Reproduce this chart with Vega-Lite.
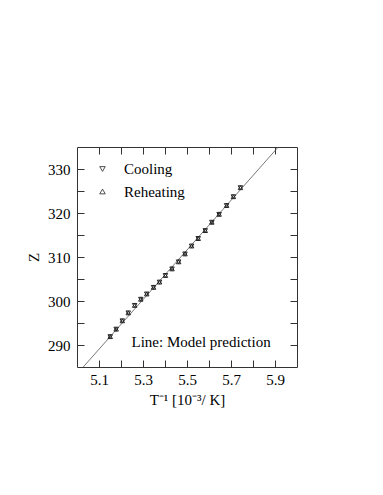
{
  "$schema": "https://vega.github.io/schema/vega-lite/v6.json",
  "width": 220,
  "height": 220,
  "autosize": {"type": "none"},
  "padding": {"left": 77, "top": 147, "right": 86, "bottom": 128},
  "background": "white",
  "config": {
    "view": {"stroke": "#333", "strokeWidth": 1},
    "font": "Liberation Serif",
    "axis": {
      "domain": false,
      "grid": false,
      "tickColor": "#333",
      "tickSize": -7,
      "tickWidth": 1,
      "labelFont": "Liberation Serif",
      "labelFontSize": 15,
      "labelColor": "black",
      "titleFont": "Liberation Serif",
      "titleFontSize": 15,
      "titleFontWeight": "normal",
      "titleColor": "black"
    }
  },
  "datasets": {
    "pts": [
      {"x": 5.151, "z": 291.9, "series": "Cooling"},
      {"x": 5.178, "z": 293.6, "series": "Cooling"},
      {"x": 5.206, "z": 295.5, "series": "Cooling"},
      {"x": 5.233, "z": 297.3, "series": "Cooling"},
      {"x": 5.262, "z": 299.0, "series": "Cooling"},
      {"x": 5.290, "z": 300.4, "series": "Cooling"},
      {"x": 5.317, "z": 301.6, "series": "Cooling"},
      {"x": 5.348, "z": 303.1, "series": "Cooling"},
      {"x": 5.375, "z": 304.3, "series": "Cooling"},
      {"x": 5.402, "z": 305.8, "series": "Cooling"},
      {"x": 5.432, "z": 307.3, "series": "Cooling"},
      {"x": 5.462, "z": 308.9, "series": "Cooling"},
      {"x": 5.491, "z": 310.7, "series": "Cooling"},
      {"x": 5.521, "z": 312.5, "series": "Cooling"},
      {"x": 5.551, "z": 314.2, "series": "Cooling"},
      {"x": 5.583, "z": 316.0, "series": "Cooling"},
      {"x": 5.613, "z": 317.9, "series": "Cooling"},
      {"x": 5.646, "z": 319.7, "series": "Cooling"},
      {"x": 5.680, "z": 321.7, "series": "Cooling"},
      {"x": 5.711, "z": 323.7, "series": "Cooling"},
      {"x": 5.743, "z": 325.75, "series": "Cooling"},
      {"x": 5.151, "z": 291.9, "series": "Reheating"},
      {"x": 5.178, "z": 293.6, "series": "Reheating"},
      {"x": 5.206, "z": 295.5, "series": "Reheating"},
      {"x": 5.233, "z": 297.3, "series": "Reheating"},
      {"x": 5.262, "z": 299.0, "series": "Reheating"},
      {"x": 5.290, "z": 300.4, "series": "Reheating"},
      {"x": 5.317, "z": 301.6, "series": "Reheating"},
      {"x": 5.348, "z": 303.1, "series": "Reheating"},
      {"x": 5.375, "z": 304.3, "series": "Reheating"},
      {"x": 5.402, "z": 305.8, "series": "Reheating"},
      {"x": 5.432, "z": 307.3, "series": "Reheating"},
      {"x": 5.462, "z": 308.9, "series": "Reheating"},
      {"x": 5.491, "z": 310.7, "series": "Reheating"},
      {"x": 5.521, "z": 312.5, "series": "Reheating"},
      {"x": 5.551, "z": 314.2, "series": "Reheating"},
      {"x": 5.583, "z": 316.0, "series": "Reheating"},
      {"x": 5.613, "z": 317.9, "series": "Reheating"},
      {"x": 5.646, "z": 319.7, "series": "Reheating"},
      {"x": 5.680, "z": 321.7, "series": "Reheating"},
      {"x": 5.711, "z": 323.7, "series": "Reheating"},
      {"x": 5.743, "z": 325.75, "series": "Reheating"}
    ],
    "line": [
      {"x": 5.0, "z": 283.4},
      {"x": 6.0, "z": 339.8}
    ]
  },
  "layer": [
    {
      "data": {"name": "line"},
      "mark": {"type": "line", "color": "#555", "strokeWidth": 0.8, "clip": true},
      "encoding": {
        "x": {
          "field": "x", "type": "quantitative",
          "scale": {"domain": [5.0, 6.0], "nice": false, "zero": false},
          "axis": {
            "orient": "bottom",
            "values": [5.1, 5.2, 5.3, 5.4, 5.5, 5.6, 5.7, 5.8, 5.9],
            "labelExpr": "round(datum.value*10) % 2 == 1 ? format(datum.value, '.1f') : ''",
            "labelPadding": 12,
            "title": "T⁻¹ [10⁻³/ K]",
            "titleY": 32,
            "titleBaseline": "middle"
          }
        },
        "y": {
          "field": "z", "type": "quantitative",
          "scale": {"domain": [285, 335], "nice": false, "zero": false},
          "axis": {
            "orient": "left",
            "values": [290, 295, 300, 305, 310, 315, 320, 325, 330],
            "labelExpr": "datum.value % 10 == 0 ? format(datum.value, 'd') : ''",
            "labelPadding": 14,
            "title": "Z",
            "titleX": -44,
            "titleY": 110,
            "titleAlign": "center",
            "titleBaseline": "middle",
            "titleAngle": -90
          }
        }
      }
    },
    {
      "data": {"name": "pts"},
      "mark": {"type": "point", "filled": false, "size": 20, "strokeWidth": 1, "color": "#222", "opacity": 1},
      "encoding": {
        "x": {
          "field": "x", "type": "quantitative",
          "axis": {
            "orient": "top",
            "values": [5.1, 5.2, 5.3, 5.4, 5.5, 5.6, 5.7, 5.8, 5.9],
            "labels": false,
            "title": null
          }
        },
        "y": {
          "field": "z", "type": "quantitative",
          "axis": {
            "orient": "right",
            "values": [290, 295, 300, 305, 310, 315, 320, 325, 330],
            "labels": false,
            "title": null
          }
        },
        "shape": {
          "field": "series", "type": "nominal",
          "scale": {"domain": ["Cooling", "Reheating"], "range": ["triangle-down", "triangle-up"]},
          "legend": {
            "orient": "none",
            "legendX": 18,
            "legendY": 14.5,
            "title": null,
            "padding": 0,
            "labelFont": "Liberation Serif",
            "labelFontSize": 15,
            "labelColor": "black",
            "labelOffset": 14,
            "rowPadding": 6.5,
            "symbolSize": 30,
            "symbolStrokeColor": "#222",
            "symbolStrokeWidth": 0.8,
            "symbolFillColor": "transparent"
          }
        }
      }
    },
    {
      "data": {"values": [{}]},
      "mark": {"type": "text", "font": "Liberation Serif", "fontSize": 15, "color": "black", "align": "center", "baseline": "middle"},
      "encoding": {
        "x": {"datum": 5.564, "type": "quantitative", "axis": null},
        "y": {"datum": 290.7, "type": "quantitative", "axis": null},
        "text": {"value": "Line: Model prediction"}
      }
    }
  ],
  "resolve": {"axis": {"x": "independent", "y": "independent"}}
}
